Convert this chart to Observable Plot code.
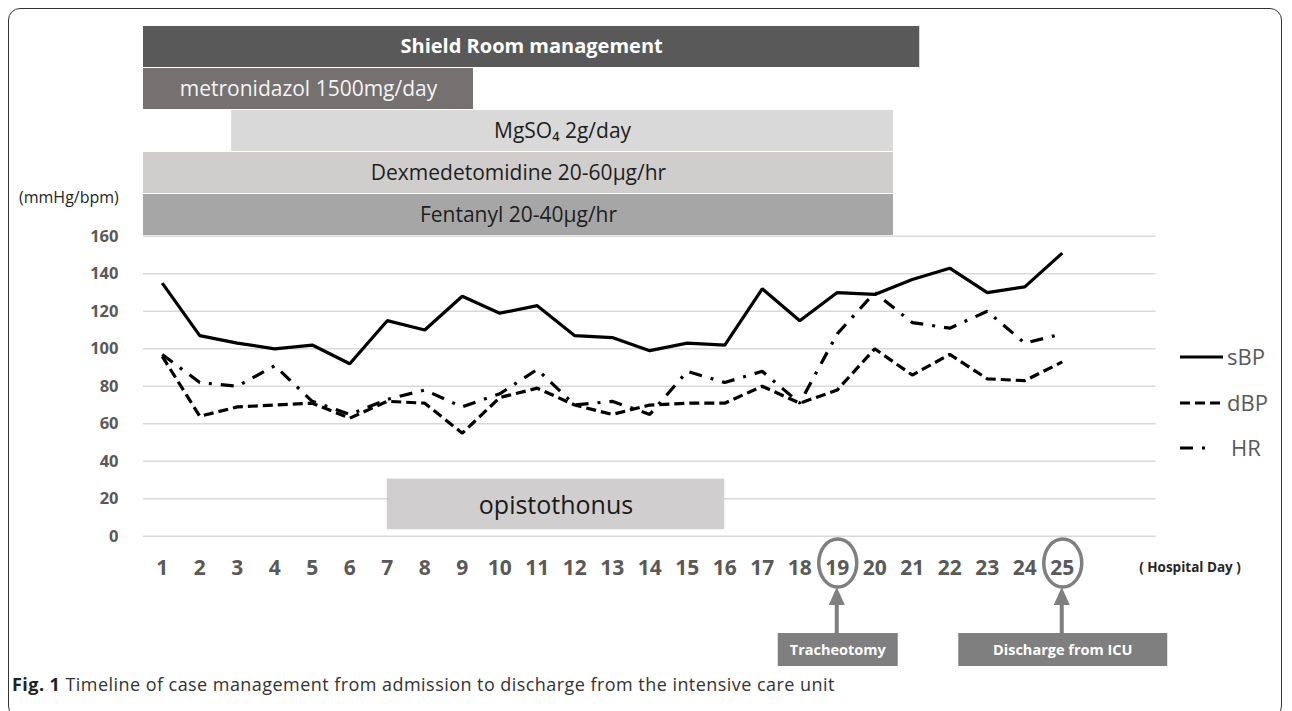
<!DOCTYPE html>
<html>
<head>
<meta charset="utf-8">
<script src="https://cdn.jsdelivr.net/npm/d3@7"></script>
<script src="https://cdn.jsdelivr.net/npm/@observablehq/plot@0.6"></script>
<style>
html, body { margin: 0; padding: 0; background: #fff; }
#wrap { position: relative; width: 1292px; height: 711px; overflow: hidden; font-family: "Open Sans", sans-serif; }
#wrap svg { position: absolute; left: 0; top: 0; }
.frame { position: absolute; left: 8px; top: 8px; width: 1274px; height: 710px; border: 1.5px solid #333; border-radius: 12px; pointer-events: none; box-sizing: border-box; }
.caption { position: absolute; left: 12px; top: 672px; font-size: 18px; letter-spacing: 0.45px; color: #333; white-space: nowrap; }
.caption b { color: #222; }
</style>
</head>
<body>
<div id="wrap"></div>
<script>
// ---------- data ----------
const days = [1,2,3,4,5,6,7,8,9,10,11,12,13,14,15,16,17,18,19,20,21,22,23,24,25];
const sBP = [135,107,103,100,102,92,115,110,128,119,123,107,106,99,103,102,132,115,130,129,137,143,130,133,151];
const dBP = [96,64,69,70,71,63,72,71,55,74,79,70,65,70,71,71,80,71,78,100,86,97,84,83,93];
const HR  = [97,82,80,91,72,65,73,78,69,76,89,70,72,65,88,82,88,71,108,130,114,111,120,103,108];
const yTicks = [0,20,40,60,80,100,120,140,160];
const seriesNames = ["sBP","dBP","HR"];

const treatments = ["Shield Room management","metronidazol 1500mg/day","MgSO\u2084 2g/day","Dexmedetomidine 20-60\u03bcg/hr","Fentanyl 20-40\u03bcg/hr"];
const treatStart = [0.5, 0.5, 2.85, 0.5, 0.5];
const treatEnd   = [21.2, 9.3, 20.5, 20.5, 20.5];

const eventDays = [19, 25];
const eventLabels = ["Tracheotomy", "Discharge from ICU"];

const opistoLabel = "opistothonus";
const opistoStart = 7;
const opistoEnd = 16;

// ---------- styles ----------
const treatFill = ["#595959","#767171","#d9d9d9","#d0cecd","#a6a6a6"];
const dash = {sBP: null, dBP: "10,5", HR: "13,9,3,9"};
const eventBoxW = [120, 209];

// ---------- build ----------
const wrap = document.getElementById("wrap");
const xDomain = [0.5, 27.5];
const W = 1292, ML = 143, MR = 136.5;

const rows = [];
days.forEach((d, i) => {
  rows.push({day: d, series: "sBP", value: sBP[i]});
  rows.push({day: d, series: "dBP", value: dBP[i]});
  rows.push({day: d, series: "HR", value: HR[i]});
});
const treatRows = treatments.map((name, i) => ({name, start: treatStart[i], end: treatEnd[i]}));
const opisto = [{label: opistoLabel, start: opistoStart, end: opistoEnd}];

const main = Plot.plot({
  width: W, height: 711,
  marginTop: 235.8, marginBottom: 175.2, marginLeft: ML, marginRight: MR,
  x: {domain: xDomain},
  y: {domain: [0, 160]},
  style: {background: "transparent", color: "#595959", fontFamily: "Open Sans", overflow: "visible"},
  marks: [
    Plot.ruleY(yTicks, {stroke: "#d9d9d9", strokeWidth: 1.5}),
    Plot.rect(opisto, {x1: "start", x2: "end", y1: 3.5, y2: 30.5, fill: "#d0cece"}),
    Plot.text(opisto, {x: d => (d.start + d.end) / 2, y: 16.4, text: "label", fontSize: 25, fill: "#1a1a1a"}),
    ...seriesNames.map(s => Plot.line(rows.filter(r => r.series === s), {
      x: "day", y: "value", stroke: "black", strokeWidth: 3.2,
      strokeDasharray: dash[s], strokeLinecap: "butt", strokeLinejoin: "miter"
    })),
    Plot.axisY({ticks: yTicks, tickSize: 0, tickPadding: 25, fontSize: 16.5, fontWeight: "bold", label: null}),
    Plot.axisX({ticks: days, tickSize: 0, tickPadding: 24, fontSize: 21, fontWeight: "bold", label: null})
  ]
});
wrap.appendChild(main);

const topPlot = Plot.plot({
  width: W, height: 240,
  marginTop: 25.5, marginBottom: 4, marginLeft: ML, marginRight: MR,
  x: {domain: xDomain, axis: null},
  y: {type: "band", domain: treatments, paddingInner: 0.035, paddingOuter: 0, axis: null},
  color: {type: "ordinal", domain: treatments, range: treatFill},
  style: {background: "transparent", fontFamily: "Open Sans"},
  marks: [
    Plot.barX(treatRows, {x1: "start", x2: "end", y: "name", fill: "name"}),
    Plot.text(treatRows.filter((d, i) => i === 0), {x: d => (d.start + d.end) / 2, y: "name", text: "name", fill: "white", fontSize: 20, fontWeight: "bold"}),
    Plot.text(treatRows.filter((d, i) => i === 1), {x: d => (d.start + d.end) / 2, y: "name", text: "name", fill: "#f4f4f4", fontSize: 21}),
    Plot.text(treatRows.filter((d, i) => i > 1), {x: d => (d.start + d.end) / 2, y: "name", text: "name", fill: "#1e1e1e", fontSize: 21})
  ]
});
wrap.appendChild(topPlot);

// ---------- annotations using the plot's scales ----------
const xs = main.scale("x");
const svg = d3.select(main);
const g = svg.append("g").attr("font-family", "Open Sans").attr("text-anchor", "start");

eventDays.forEach((day, i) => {
  const cx = xs.apply(day);
  g.append("ellipse").attr("cx", cx + 1).attr("cy", 563).attr("rx", 19).attr("ry", 24)
    .attr("fill", "none").attr("stroke", "#7f7f7f").attr("stroke-width", 3.5);
  g.append("line").attr("x1", cx).attr("x2", cx).attr("y1", 603).attr("y2", 634)
    .attr("stroke", "#7f7f7f").attr("stroke-width", 4);
  g.append("path").attr("d", `M${cx},587L${cx - 8},605L${cx + 8},605Z`).attr("fill", "#7f7f7f");
  const w = eventBoxW[i];
  g.append("rect").attr("x", cx + 1 - w / 2).attr("y", 633).attr("width", w).attr("height", 33).attr("fill", "#7f7f7f");
  g.append("text").attr("x", cx + 1).attr("y", 649.5).attr("dy", "0.35em").attr("text-anchor", "middle")
    .attr("fill", "white").attr("font-weight", "bold").attr("font-size", 14.5).text(eventLabels[i]);
});

g.append("text").attr("x", 1190).attr("y", 567).attr("dy", "0.35em").attr("text-anchor", "middle")
  .attr("fill", "#262626").attr("font-weight", "bold").attr("font-size", 13.5).text("( Hospital Day )");
g.append("text").attr("x", 19).attr("y", 197).attr("dy", "0.35em").attr("text-anchor", "start")
  .attr("fill", "#262626").attr("font-size", 16).text("(mmHg/bpm)");

// legend
const legY = [357, 403, 448];
const legLen = [43, 43, 27];
seriesNames.forEach((s, i) => {
  g.append("line").attr("x1", 1180).attr("x2", 1180 + legLen[i]).attr("y1", legY[i]).attr("y2", legY[i])
    .attr("stroke", "black").attr("stroke-width", 3.2).attr("stroke-dasharray", dash[s]);
  g.append("text").attr("x", s === "HR" ? 1231 : 1227).attr("y", legY[i]).attr("dy", "0.35em").attr("text-anchor", "start")
    .attr("fill", "#595959").attr("font-size", 22).text(s);
});

// caption and frame
const cap = document.createElement("div");
cap.className = "caption";
cap.innerHTML = "<b>Fig. 1</b> Timeline of case management from admission to discharge from the intensive care unit";
wrap.appendChild(cap);
const frame = document.createElement("div");
frame.className = "frame";
wrap.appendChild(frame);
</script>
</body>
</html>
